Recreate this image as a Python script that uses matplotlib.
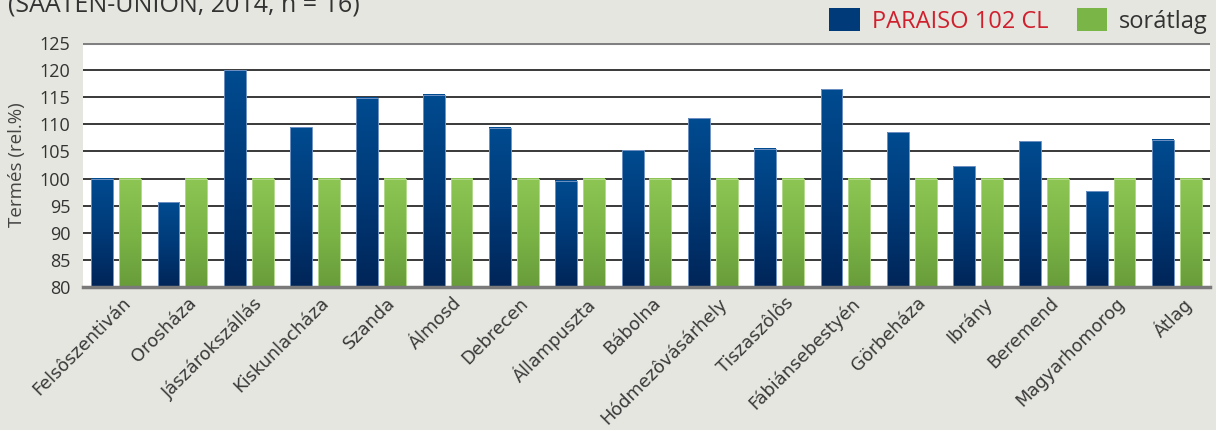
import matplotlib
matplotlib.use("Agg")
import matplotlib.pyplot as plt
import matplotlib.transforms as mtransforms
import numpy as np
from matplotlib.colors import LinearSegmentedColormap
from matplotlib.patches import Patch
from matplotlib.font_manager import FontProperties

locations = ["Felsôszentiván", "Orosháza", "Jászárokszállás", "Kiskunlacháza", "Szanda",
             "Álmosd", "Debrecen", "Állampuszta", "Bábolna", "Hódmezôvásárhely",
             "Tiszaszôlôs", "Fábiánsebestyén", "Görbeháza", "Ibrány", "Beremend",
             "Magyarhomorog", "Átlag"]
paraiso = [100.0, 95.6, 120.0, 109.5, 114.9, 115.5, 109.4, 99.6, 105.2, 111.1,
           105.5, 116.5, 108.5, 102.3, 106.9, 97.7, 107.2]
soratlag = [100] * 17
yticks = [80, 85, 90, 95, 100, 105, 110, 115, 120, 125]
series_names = ["PARAISO 102 CL", "sorátlag"]

plt.rcParams['font.family'] = ['Open Sans', 'DejaVu Sans']

fig = plt.figure(figsize=(12.16, 4.30), dpi=100)
fig.patch.set_facecolor('#e5e6df')
ax = fig.add_axes([83/1216, 1-287/430, (1210-83)/1216, (287-43)/430])
ax.set_facecolor('white')

x = np.arange(len(locations))
w = 0.33
off = 0.21
base = 80
blue_cmap = LinearSegmentedColormap.from_list('b', ['#002558', '#003a78', '#004b90'])
green_cmap = LinearSegmentedColormap.from_list('g', ['#689c3a', '#7cb547', '#8dc653'])

b1 = ax.bar(x - off, np.array(paraiso) - base, w, bottom=base, facecolor='none',
            edgecolor='#6f92c2', linewidth=0.7, zorder=3)
b2 = ax.bar(x + off, np.array(soratlag) - base, w, bottom=base, facecolor='none',
            edgecolor='#b3d88c', linewidth=0.7, zorder=3)
grad = np.linspace(0, 1, 256).reshape(-1, 1)
for bars, cm in ((b1, blue_cmap), (b2, green_cmap)):
    for r in bars:
        x0, y0, ww, hh = r.get_x(), r.get_y(), r.get_width(), r.get_height()
        ax.imshow(grad, extent=[x0, x0 + ww, y0, y0 + hh], origin='lower',
                  aspect='auto', cmap=cm, zorder=2)

ax.set_xlim(-0.5, len(locations) - 0.5)
ax.set_ylim(80, 125)
ax.set_yticks(yticks)
ax.set_yticklabels([str(v) for v in yticks], fontsize=13, color='#333333')
ax.yaxis.grid(True, color='#2a2a2a', linewidth=1.3, zorder=1)
ax.set_axisbelow(True)
ax.axhline(125, color='#808080', linewidth=2.2, zorder=1.5)
for s in ['top', 'right', 'left']:
    ax.spines[s].set_visible(False)
ax.spines['bottom'].set_color('#7a7a7a')
ax.spines['bottom'].set_linewidth(2.5)
ax.spines['bottom'].set_zorder(4)
ax.tick_params(axis='y', length=0, pad=9)
ax.tick_params(axis='x', length=0, pad=5)
ax.set_xticks(x)
ax.set_xticklabels(locations, rotation=45, ha='right', rotation_mode='anchor',
                   color='#3a3a3a')
fp = FontProperties(family='DejaVu Sans', size=12.8)
shift = mtransforms.ScaledTranslation(5/100, 0, fig.dpi_scale_trans)
for lbl in ax.get_xticklabels():
    lbl.set_fontproperties(fp)
    lbl.set_transform(lbl.get_transform() + shift)
ax.set_ylabel("Termés (rel.%)", fontsize=13.5, color='#444444')
ax.yaxis.set_label_coords(-0.051, 0.5)

fig.text(8/1216, 1-12/430, "(SAATEN-UNION, 2014, n = 16)", fontsize=18,
         color='#333333', va='baseline', ha='left')

handles = [Patch(facecolor='#003a78'), Patch(facecolor='#7ab548')]
leg = fig.legend(handles, series_names, loc='center right',
                 bbox_to_anchor=(1208/1216, 1-21/430), ncol=2, frameon=False,
                 fontsize=17, handlelength=1.3, handleheight=1.1,
                 handletextpad=0.5, columnspacing=1.2, borderpad=0, borderaxespad=0)
leg.get_texts()[0].set_color('#d0202e')
leg.get_texts()[1].set_color('#333333')

fig.savefig('out.png', dpi=100, facecolor=fig.get_facecolor())
